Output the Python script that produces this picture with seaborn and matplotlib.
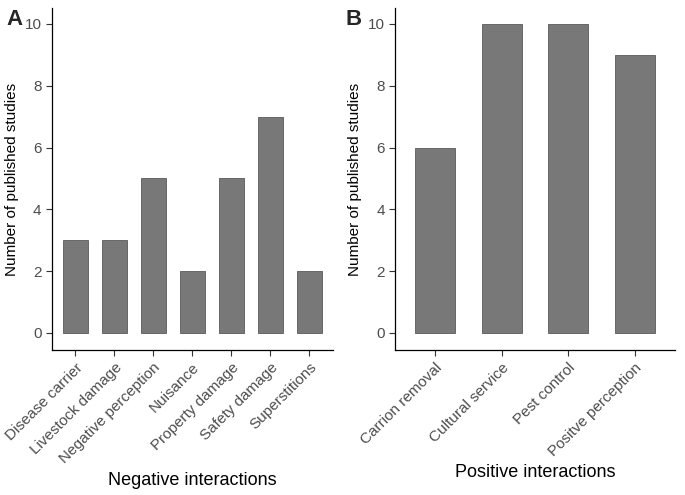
import matplotlib
matplotlib.use("Agg")
import matplotlib.pyplot as plt
import pandas as pd
import seaborn as sns

neg_labels = ["Disease carrier", "Livestock damage", "Negative perception", "Nuisance",
              "Property damage", "Safety damage", "Superstitions"]
neg_counts = [3, 3, 5, 2, 5, 7, 2]
pos_labels = ["Carrion removal", "Cultural service", "Pest control", "Positve perception"]
pos_counts = [6, 10, 10, 9]

sns.set_style("ticks")
plt.rcParams["font.family"] = ["Liberation Sans", "DejaVu Sans"]

df_neg = pd.DataFrame({"interaction": neg_labels, "n": neg_counts})
df_pos = pd.DataFrame({"interaction": pos_labels, "n": pos_counts})

fig = plt.figure(figsize=(6.85, 4.95), dpi=100)
ax_a = fig.add_axes([0.0759, 0.293, 0.410, 0.691])
ax_b = fig.add_axes([0.577, 0.293, 0.408, 0.691])

panels = [
    (ax_a, df_neg, "Negative interactions", "A", 0.64, 7, 0.010),
    (ax_b, df_pos, "Positive interactions", "B", 0.6, 4, 0.505),
]
for ax, d, xlab, letter, w, n, lx in panels:
    sns.barplot(data=d, x="interaction", y="n", ax=ax, color="#787878",
                saturation=1, width=w, edgecolor="#5a5a5a", linewidth=0.6)
    ax.set_xlim(-0.6, n - 0.4)
    ax.set_ylim(-0.55, 10.52)
    ax.set_yticks([0, 2, 4, 6, 8, 10])
    ax.set_ylabel("Number of published studies", fontsize=11, color="black")
    ax.set_xlabel(xlab, fontsize=13, color="black")
    ax.tick_params(axis="both", labelsize=11, labelcolor="#4d4d4d", color="#333333",
                   length=4, width=0.8)
    plt.setp(ax.get_xticklabels(), rotation=45, ha="right", rotation_mode="anchor")
    for s in ["left", "bottom"]:
        ax.spines[s].set_color("black")
        ax.spines[s].set_linewidth(0.9)
    sns.despine(ax=ax)
    fig.text(lx, 0.982, letter, fontsize=16, fontweight="bold", ha="left", va="top")

plt.savefig("out.png", dpi=100)
plt.close()
